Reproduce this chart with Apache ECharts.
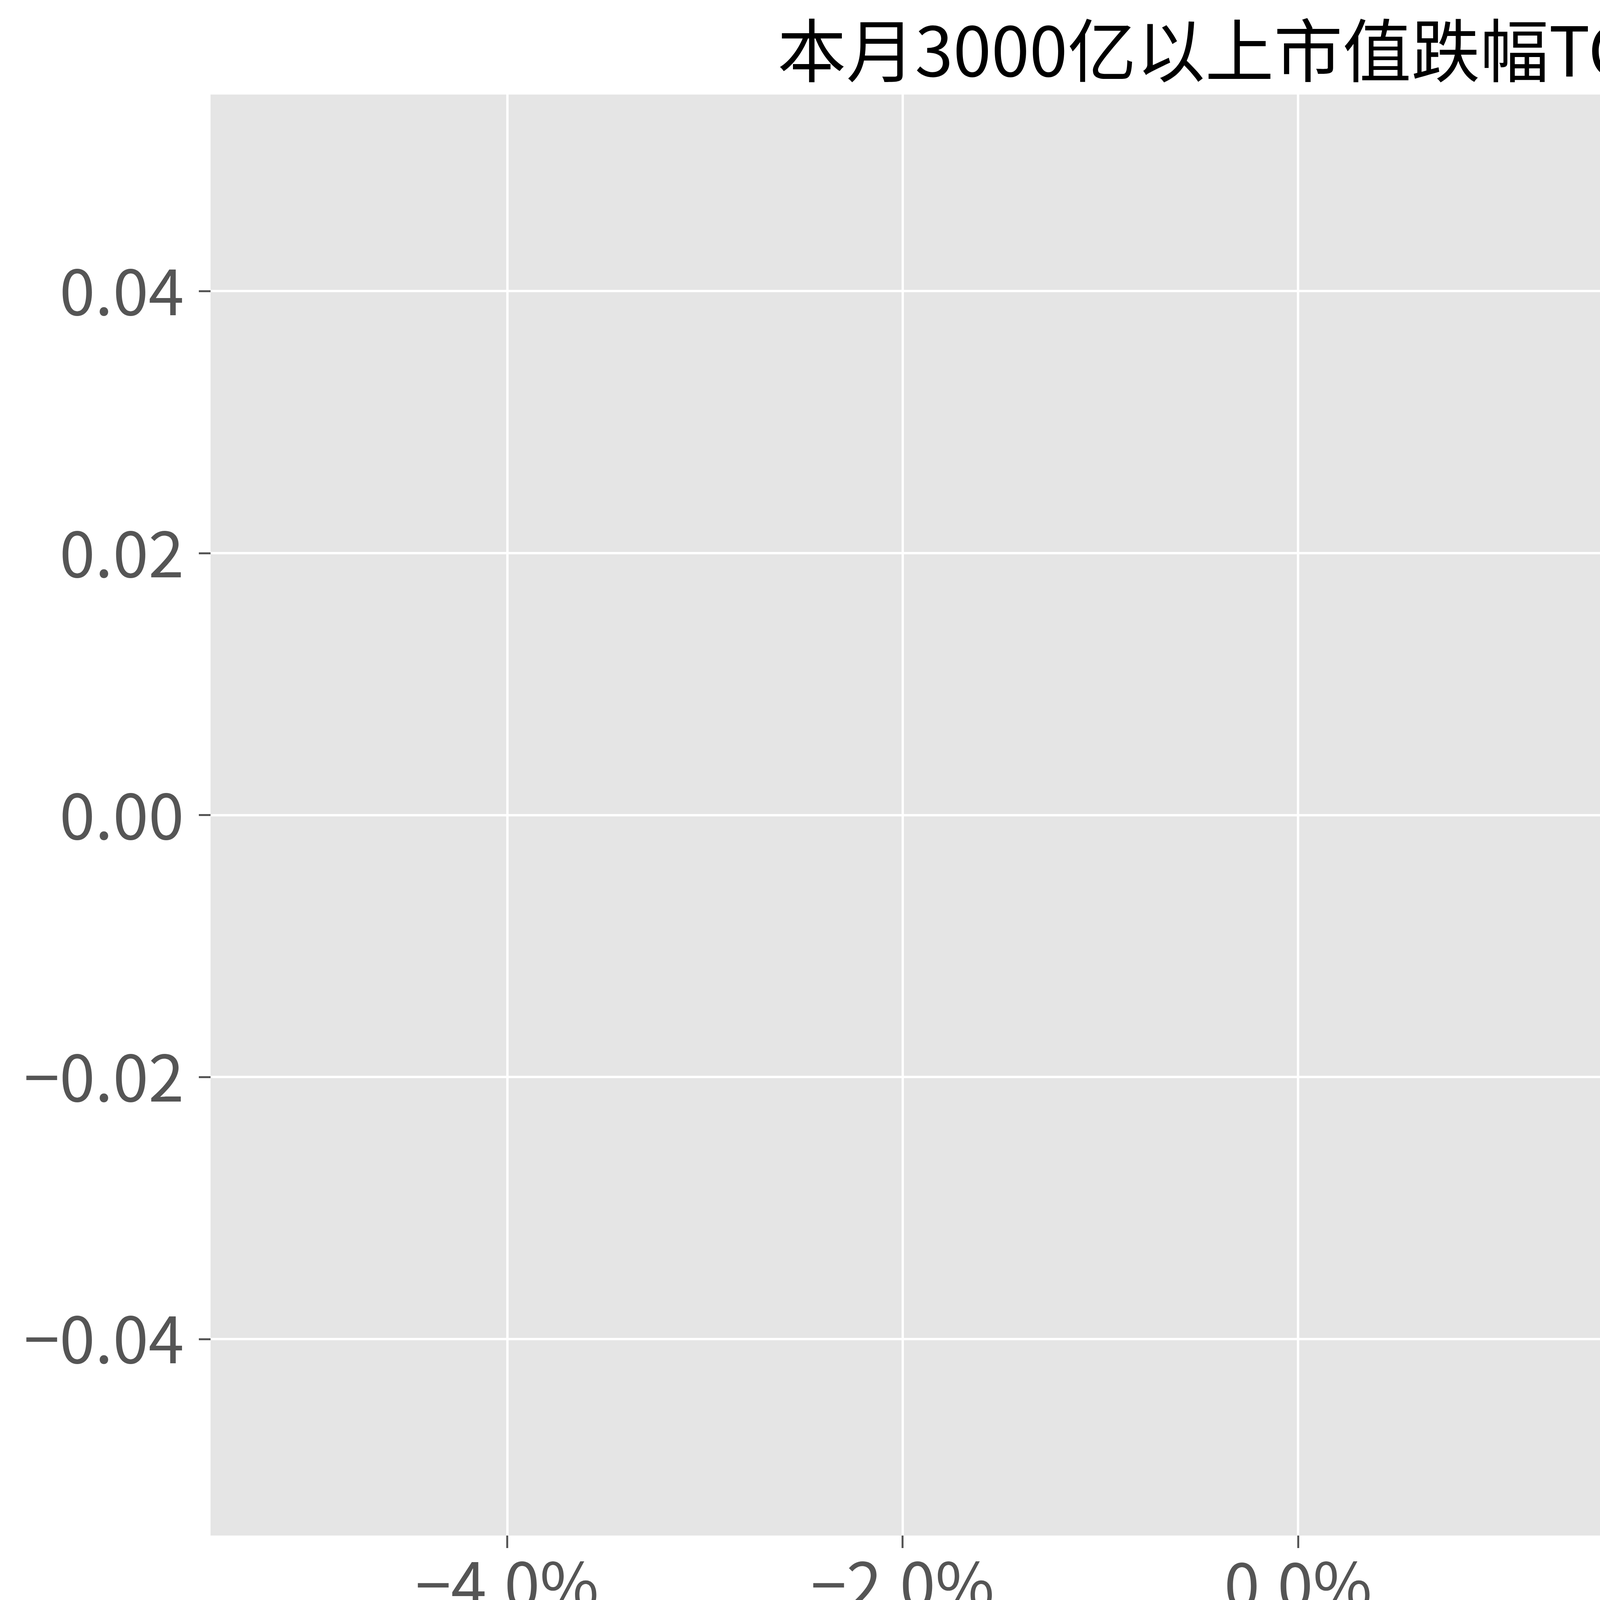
<!DOCTYPE html>
<html>
<head>
<meta charset="utf-8">
<script src="https://cdn.jsdelivr.net/npm/echarts@6/dist/echarts.min.js"></script>
<style>
  html, body { margin: 0; padding: 0; background: #fff; }
  #main { width: 6650px; height: 4316px; }
</style>
</head>
<body>
<div id="main"></div>
<script>
// 本月3000亿以上市值跌幅TOP股票 —— 本月没有符合条件的股票, 所以数据为空
const stockNames = [];
const monthDrops = [];

// 坐标轴刻度
const xTicks = [-0.04, -0.02, 0, 0.02, 0.04];
const yTicks = [-0.04, -0.02, 0, 0.02, 0.04];
const axisMin = -0.055;
const axisMax = 0.055;

const FONT = '"Noto Sans CJK SC", "Noto Sans", sans-serif';
const GREY = '#555555';

// 负号用 U+2212, 跟原图一致
const fmtNum = (v) => {
  const s = Math.abs(v).toFixed(2);
  return v < -1e-9 ? '\u2212' + s : s;
};
const fmtPct = (v) => {
  const s = (Math.abs(v) * 100).toFixed(1) + '%';
  return v < -1e-9 ? '\u2212' + s : s;
};

const chart = echarts.init(document.getElementById('main'));

const yAxisBase = (pos, showTick) => ({
  type: 'value',
  position: pos,
  min: axisMin,
  max: axisMax,
  axisLine: { show: false, onZero: false },
  axisTick: {
    show: showTick,
    customValues: yTicks,
    length: 30,
    lineStyle: { color: GREY, width: 5 }
  },
  axisLabel: {
    customValues: yTicks,
    margin: 68,
    color: GREY,
    fontSize: 164,
    fontFamily: FONT,
    formatter: fmtNum
  },
  splitLine: {
    show: pos === 'left',
    lineStyle: { color: '#ffffff', width: 6 }
  }
});

chart.setOption({
  backgroundColor: '#ffffff',
  animation: false,
  title: {
    text: '本月3000亿以上市值跌幅TOP股票',
    left: 'center',
    top: 36,
    textStyle: {
      color: '#000000',
      fontSize: 176,
      fontWeight: 'normal',
      fontFamily: FONT
    }
  },
  grid: {
    left: 539,
    right: 543,
    top: 242,
    bottom: 385,
    show: true,
    backgroundColor: '#E5E5E5',
    borderWidth: 0
  },
  xAxis: {
    type: 'value',
    min: axisMin,
    max: axisMax,
    name: '本月跌幅',
    nameLocation: 'middle',
    nameGap: 222,
    nameTextStyle: { color: GREY, fontSize: 98, fontFamily: FONT },
    axisLine: { show: false, onZero: false },
    axisTick: {
      customValues: xTicks,
      length: 32,
      lineStyle: { color: GREY, width: 5 }
    },
    axisLabel: {
      customValues: xTicks,
      margin: 44,
      color: GREY,
      fontSize: 164,
      fontFamily: FONT,
      formatter: fmtPct
    },
    splitLine: { show: true, lineStyle: { color: '#ffffff', width: 6 } }
  },
  yAxis: [yAxisBase('left', true), yAxisBase('right', false)],
  series: [{
    type: 'scatter',
    data: monthDrops.map((v, i) => [v, i]),
    name: '本月跌幅'
  }]
});
</script>
</body>
</html>
